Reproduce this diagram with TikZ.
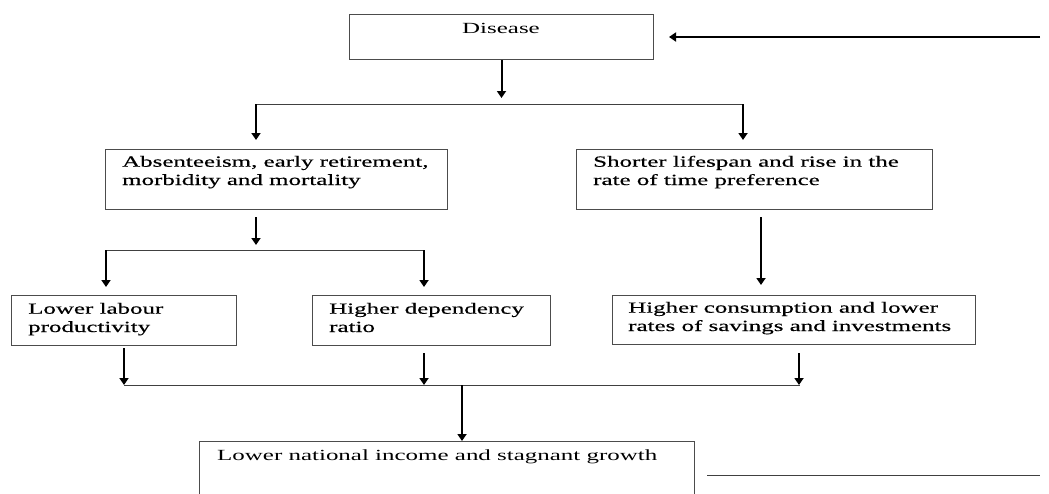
\documentclass[tikz,border=0pt]{standalone}
\usepackage{fontspec}
\setmainfont{Liberation Serif}[FakeStretch=1.61,FakeBold=0.45]
\newfontfamily\thinserif{Liberation Serif}[FakeStretch=1.61]
\usetikzlibrary{arrows.meta,calc}
\begin{document}
\begin{tikzpicture}[x=1pt,y=-1pt,
  box/.style={draw=black!70, line width=1pt, inner sep=0pt, anchor=north west},
  txt/.style={inner sep=0pt, anchor=base west, font=\fontsize{15.5}{18.3}\selectfont, align=left},
  thintxt/.style={txt, font=\thinserif\fontsize{15.5}{18.3}\selectfont},
  arr/.style={line width=2pt, -{Triangle[width=9pt,length=7pt]}},
  ln/.style={line width=1pt, draw=black!75}]
\useasboundingbox (0,0) rectangle (1049,493);
\clip (0,0) rectangle (1049,493);
% boxes
\node[box, minimum width=304pt, minimum height=45pt] (D) at (349,14) {};
\node[box, minimum width=342pt, minimum height=60pt] (A) at (105,149) {};
\node[box, minimum width=356pt, minimum height=60pt] (S) at (576,149) {};
\node[box, minimum width=225pt, minimum height=50pt] (L) at (11,295) {};
\node[box, minimum width=238pt, minimum height=50pt] (H) at (312,295) {};
\node[box, minimum width=363pt, minimum height=49pt] (C) at (612,295) {};
\node[box, minimum width=495pt, minimum height=70pt] (B) at (199,441) {};
% texts (anchor = baseline of the last line)
\node[thintxt, anchor=base] (tD) at (501,33) {Disease};
\node[txt] (tA) at (122,185) {Absenteeism, early retirement,\\morbidity and mortality};
\node[txt] (tS) at (593,185) {Shorter lifespan and rise in the\\rate of time preference};
\node[txt] (tL) at (28,332) {Lower labour\\productivity};
\node[txt] (tH) at (329,332) {Higher dependency\\ratio};
\node[txt] (tC) at (628,331) {Higher consumption and lower\\rates of savings and investments};
\node[thintxt] (tB) at (217,460) {Lower national income and stagnant growth};
% junction coordinates
\coordinate (fbR) at (1040,37);
\coordinate (j1L) at (256,104);
\coordinate (j1R) at (743,104);
\coordinate (j2) at (256,250);
\coordinate (j2L) at (106,250);
\coordinate (j2R) at (424,250);
\coordinate (j3L) at (124,385);
\coordinate (j3M) at (424,385);
\coordinate (j3R) at (800,385);
\coordinate (j3C) at (462,385);
\coordinate (sR) at (761,285);
\coordinate (bR) at (1040,475);
% connectors
\draw[arr] (fbR) -- ([xshift=15pt]D.east);
\draw[arr] (D.south) -- ++(0,38);
\draw[ln] (j1L) -- (j1R);
\draw[arr] (j1L) -- ([yshift=9pt]j1L |- A.north);
\draw[arr] (j1R) -- ([yshift=9pt]j1R |- S.north);
\draw[arr] ([yshift=-7pt]j2 |- A.south) -- ([yshift=5pt]j2);
\draw[ln] (j2L) -- (j2R);
\draw[arr] (j2L) -- ([yshift=8pt]j2L |- L.north);
\draw[arr] (j2R) -- ([yshift=8pt]j2R |- H.north);
\draw[arr] ([yshift=-7pt]sR |- S.south) -- ([yshift=10pt]sR |- C.north);
\draw[arr] ([yshift=-2pt]j3L |- L.south) -- (j3L);
\draw[arr] ([yshift=-7pt]j3M |- H.south) -- (j3M);
\draw[arr] ([yshift=-8pt]799,0 |- C.south) -- (799,385);
\draw[ln] (j3L) -- (j3R);
\draw[arr] (j3C) -- (j3C |- B.north);
\draw[ln] ([xshift=12pt]B.east |- bR) -- (bR);
\end{tikzpicture}
\end{document}
